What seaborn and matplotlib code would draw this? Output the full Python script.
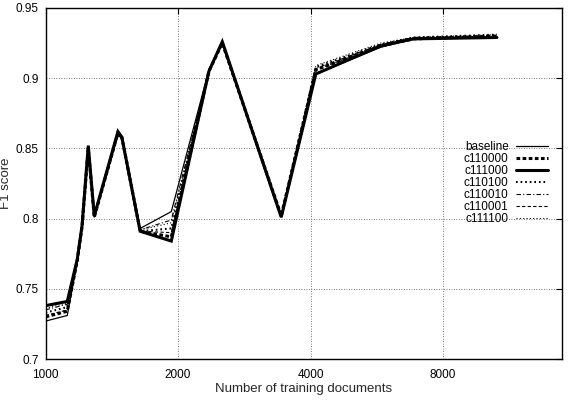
import numpy as np
import pandas as pd
import matplotlib
matplotlib.use("Agg")
import matplotlib.pyplot as plt
import seaborn as sns

docs = [1000, 1120, 1180, 1210, 1250, 1290, 1460, 1490, 1640, 1930,
        2350, 2520, 3430, 4110, 5770, 6850, 10600]

baseline = [0.727, 0.731, 0.769, 0.794, 0.850, 0.801, 0.860, 0.857, 0.793, 0.805,
            0.906, 0.926, 0.801, 0.903, 0.922, 0.928, 0.929]
c110000 = [0.730, 0.734, 0.770, 0.794, 0.850, 0.801, 0.861, 0.858, 0.791, 0.787,
           0.905, 0.925, 0.802, 0.906, 0.923, 0.928, 0.930]
c111000 = [0.738, 0.741, 0.771, 0.795, 0.852, 0.802, 0.862, 0.858, 0.791, 0.784,
           0.905, 0.926, 0.801, 0.903, 0.923, 0.928, 0.929]
c110100 = [0.733, 0.737, 0.770, 0.794, 0.850, 0.801, 0.860, 0.857, 0.791, 0.793,
           0.905, 0.925, 0.802, 0.908, 0.924, 0.929, 0.931]
c110010 = [0.735, 0.739, 0.770, 0.794, 0.850, 0.801, 0.860, 0.857, 0.792, 0.799,
           0.905, 0.925, 0.802, 0.907, 0.924, 0.929, 0.930]
c110001 = [0.731, 0.735, 0.770, 0.794, 0.850, 0.801, 0.860, 0.857, 0.791, 0.790,
           0.905, 0.925, 0.802, 0.906, 0.923, 0.928, 0.930]
c111100 = [0.736, 0.740, 0.770, 0.794, 0.850, 0.801, 0.860, 0.857, 0.792, 0.797,
           0.905, 0.925, 0.802, 0.909, 0.925, 0.929, 0.931]

series_names = ["baseline", "c110000", "c111000", "c110100", "c110010", "c110001", "c111100"]
series_vals = [baseline, c110000, c111000, c110100, c110010, c110001, c111100]

yticks = [0.7, 0.75, 0.8, 0.85, 0.9, 0.95]
ytick_labels = ["0.7", "0.75", "0.8", "0.85", "0.9", "0.95"]
xticks = [1000, 2000, 4000, 8000]
xtick_labels = ["1000", "2000", "4000", "8000"]

styles = {
    "baseline": dict(lw=0.9, ls="-"),
    "c110000": dict(lw=2.2, ls=(0, (1.2, 0.8))),
    "c111000": dict(lw=2.2, ls="-"),
    "c110100": dict(lw=1.5, ls=(0, (0.8, 1.4))),
    "c110010": dict(lw=0.8, ls=(0, (4, 2, 1, 2))),
    "c110001": dict(lw=0.8, ls=(0, (3, 2))),
    "c111100": dict(lw=0.8, ls=(0, (1, 2))),
}

sns.set_theme(style="white")
plt.rcParams["font.family"] = ["Liberation Sans", "DejaVu Sans"]

fig = plt.figure(figsize=(5.7, 4.0), dpi=100)
ax = fig.add_axes([0.080, 0.1025, 0.906, 0.8775])

for name, vals in zip(series_names, series_vals):
    df = pd.DataFrame({"docs": docs, "f1": vals})
    st = styles[name]
    sns.lineplot(data=df, x="docs", y="f1", ax=ax, color="black",
                 linewidth=st["lw"], linestyle=st["ls"], label=name,
                 solid_joinstyle="miter", dash_joinstyle="miter")

ax.set_xscale("log", base=2)
ax.set_xlim(1000, 14900)
ax.set_ylim(0.7, 0.95)
ax.set_xticks(xticks)
ax.set_xticklabels(xtick_labels)
ax.xaxis.set_minor_locator(matplotlib.ticker.NullLocator())
ax.set_yticks(yticks)
ax.set_yticklabels(ytick_labels)

ax.grid(True, color="#555555", linestyle=(0, (1, 2)), linewidth=0.6)
ax.tick_params(direction="in", length=4, width=0.8, colors="black",
               labelsize=8.5, top=True, right=True)
ax.tick_params(axis="x", pad=7)
ax.tick_params(axis="y", pad=5)
for sp in ax.spines.values():
    sp.set_color("black")
    sp.set_linewidth(1.0)

ax.set_xlabel("Number of training documents", fontsize=9.5)
ax.xaxis.set_label_coords(0.5, -0.068)
ax.set_ylabel("F1 score", fontsize=9.5)
ax.yaxis.set_label_coords(-0.065, 0.5)

leg = ax.legend(loc="center right", bbox_to_anchor=(0.972, 0.500), frameon=False,
                markerfirst=False, fontsize=8.5, handlelength=2.7,
                labelspacing=0.0, handletextpad=0.6, borderaxespad=0,
                borderpad=0)
for t in leg.get_texts():
    t.set_color("black")

fig.savefig("out.png", dpi=100)
